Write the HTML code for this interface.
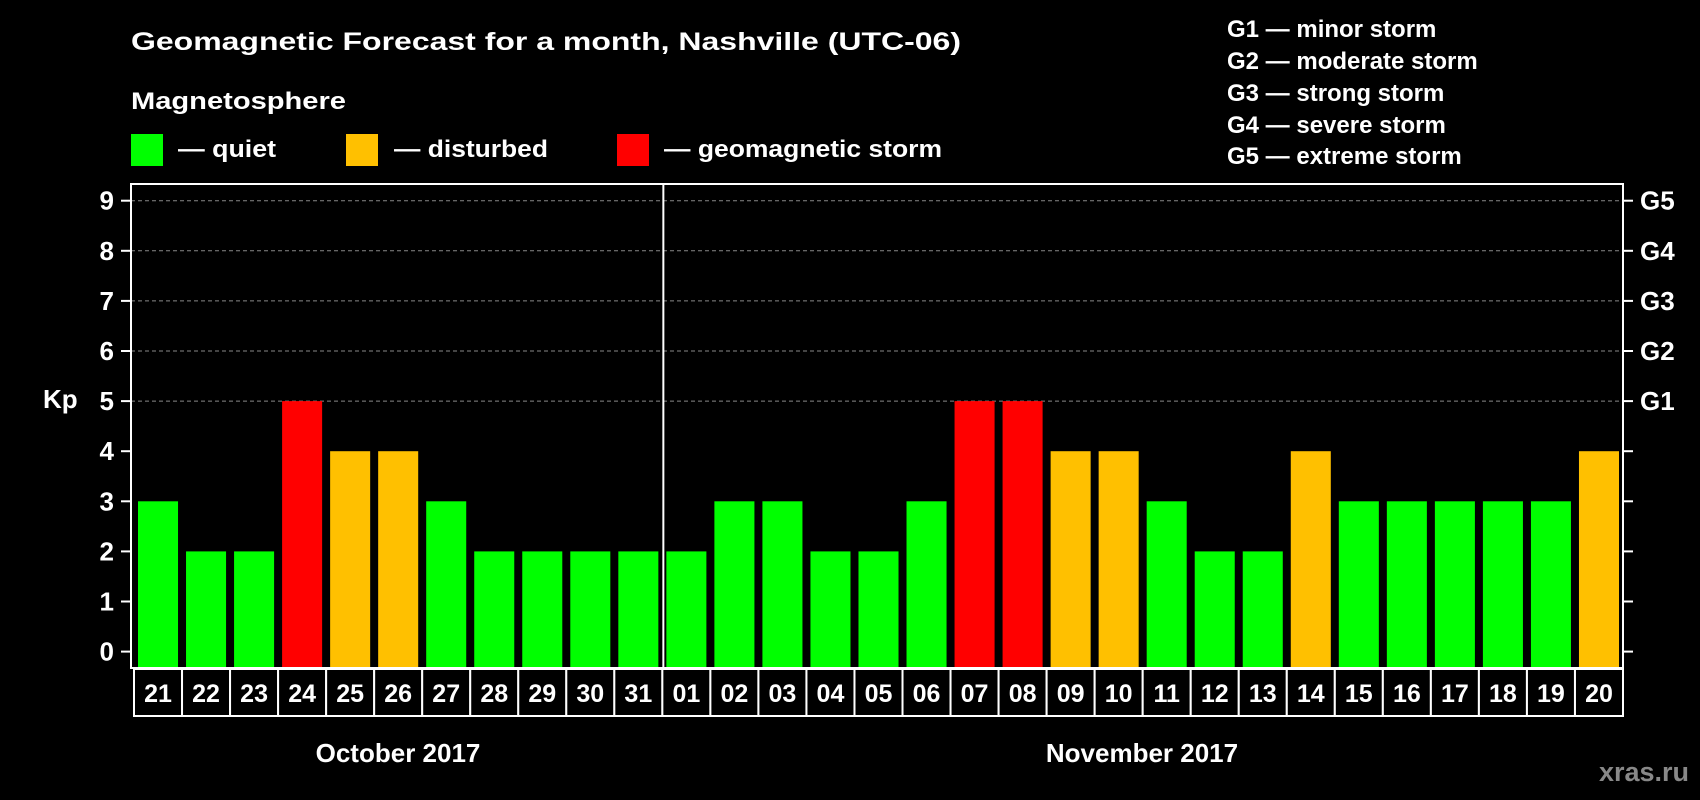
<!DOCTYPE html>
<html><head><meta charset="utf-8"><style>
html,body{margin:0;padding:0;background:#000;}
svg{display:block;font-family:"Liberation Sans",Arial,sans-serif;font-weight:bold;}
</style></head><body>
<svg id="chart" width="1700" height="800" viewBox="0 0 1700 800" xmlns="http://www.w3.org/2000/svg">
<rect x="0" y="0" width="1700" height="800" fill="#000"/>
<text x="131" y="50" fill="#fff" font-size="25" textLength="830" lengthAdjust="spacingAndGlyphs">Geomagnetic Forecast for a month, Nashville (UTC-06)</text>
<text x="131" y="109" fill="#fff" font-size="24" textLength="215" lengthAdjust="spacingAndGlyphs">Magnetosphere</text>
<rect x="131" y="134" width="32" height="32" fill="#00ff00"/>
<text x="178" y="157" fill="#fff" font-size="24" textLength="98" lengthAdjust="spacingAndGlyphs">— quiet</text>
<rect x="346" y="134" width="32" height="32" fill="#ffc000"/>
<text x="394" y="157" fill="#fff" font-size="24" textLength="154" lengthAdjust="spacingAndGlyphs">— disturbed</text>
<rect x="617" y="134" width="32" height="32" fill="#ff0000"/>
<text x="664" y="157" fill="#fff" font-size="24" textLength="278" lengthAdjust="spacingAndGlyphs">— geomagnetic storm</text>
<g fill="#fff" font-size="24">
<text x="1227" y="37">G1 — minor storm</text>
<text x="1227" y="69">G2 — moderate storm</text>
<text x="1227" y="101">G3 — strong storm</text>
<text x="1227" y="133">G4 — severe storm</text>
<text x="1227" y="164">G5 — extreme storm</text>
</g>
<g id="plot"></g>
<text x="43" y="408" fill="#fff" font-size="26">Kp</text>
<text x="398" y="762" fill="#fff" font-size="26" text-anchor="middle">October 2017</text>
<text x="1142" y="762" fill="#fff" font-size="26" text-anchor="middle">November 2017</text>
<text x="1689" y="781" fill="#888" font-size="27" text-anchor="end">xras.ru</text>
</svg>
<script>
const days = ["21","22","23","24","25","26","27","28","29","30","31","01","02","03","04","05","06","07","08","09","10","11","12","13","14","15","16","17","18","19","20"].slice(0,31);
const kpValues = [3,2,2,5,4,4,3,2,2,2,2,2,3,3,2,2,3,5,5,4,4,3,2,2,4,3,3,3,3,3,4];
const yTicks = [0,1,2,3,4,5,6,7,8,9];
const gLabels = ["G1","G2","G3","G4","G5"];
const gLevels = [5,6,7,8,9];

const NS="http://www.w3.org/2000/svg";
const g=document.getElementById('plot');
const L=131,R=1623,T=184,B=668;
const n=kpValues.length;
const cellW=(R-L-3)/n;
function xCell(i){return L+3+i*cellW;}
function yv(v){return 651.6-v*50.1;}
function mk(tag,attrs){const e=document.createElementNS(NS,tag);for(const k in attrs)e.setAttribute(k,attrs[k]);g.appendChild(e);return e;}
function color(v){return v>=5?"#ff0000":(v>=4?"#ffc000":"#00ff00");}

// grid
for(const v of yTicks){
  if(v>=5){
    const gl=mk('line',{x1:L,x2:R,y1:yv(v),y2:yv(v),stroke:'#888','stroke-dasharray':'4,3','stroke-width':1});
    
    
  }
  const t=mk('line',{x1:L-10,x2:L,y1:yv(v),y2:yv(v),stroke:'#fff','stroke-width':2});
  
  
  const t2=mk('line',{x1:R,x2:R+10,y1:yv(v),y2:yv(v),stroke:'#fff','stroke-width':2});
  
  
  const lb=mk('text',{x:L-17,y:yv(v)+9,fill:'#fff','font-size':26,'text-anchor':'end'});
  lb.textContent=v;
  
  
}
gLabels.forEach((s,i)=>{
  const lb=mk('text',{x:R+17,y:yv(gLevels[i])+9,fill:'#fff','font-size':26});
  lb.textContent=s;
  
  
});
// bars
kpValues.forEach((v,i)=>{
  const x=xCell(i)+4;
  const b=mk('rect',{x:x,y:yv(v),width:cellW-8,height:B-yv(v)-1,fill:color(v)});
  
  
});
// frame
const fr=mk('rect',{x:L,y:T,width:R-L,height:B-T,fill:'none',stroke:'#fff','stroke-width':2});


const mi=days.indexOf("01");
const dv=mk('line',{x1:xCell(mi)+1,x2:xCell(mi)+1,y1:T,y2:B,stroke:'#fff','stroke-width':2});


// day cells
days.forEach((d,i)=>{
  const c=mk('rect',{x:xCell(i),y:B+1,width:cellW,height:47,fill:'#000',stroke:'#fff','stroke-width':2});
  
  
  const t=mk('text',{x:xCell(i)+cellW/2,y:B+34,fill:'#fff','font-size':25,'text-anchor':'middle'});
  t.textContent=d;
  
  
});
</script>
</body></html>
